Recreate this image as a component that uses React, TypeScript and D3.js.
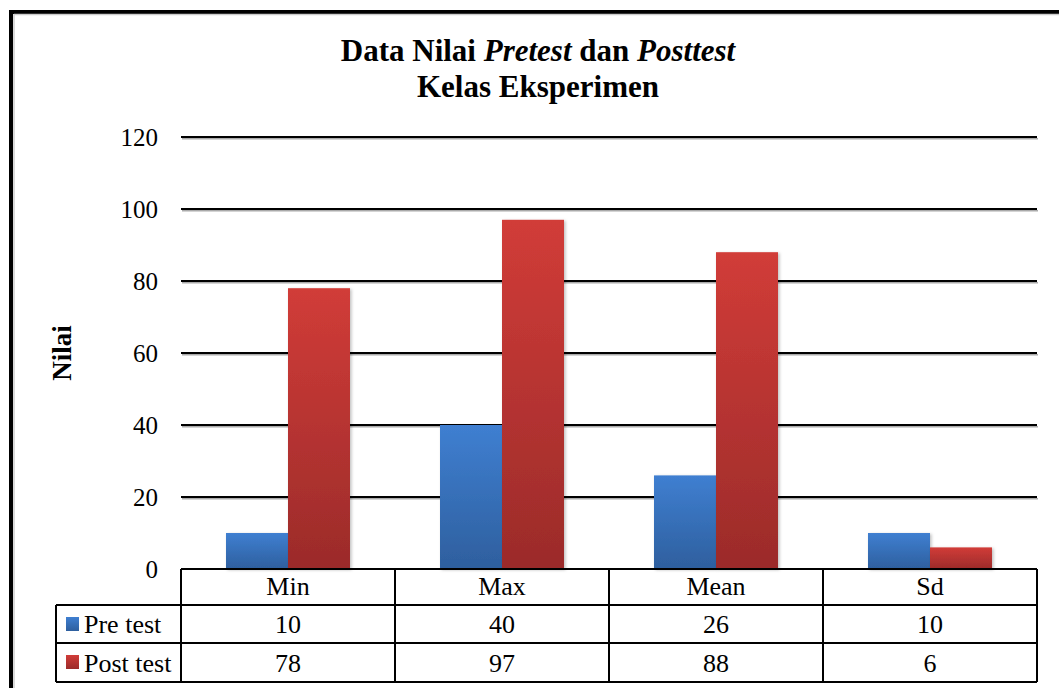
import React, { useRef, useEffect } from 'react';
import * as d3 from 'd3';

const categories = ['Min', 'Max', 'Mean', 'Sd'];
const seriesNames = ['Pre test', 'Post test'];
const preTest = [10, 40, 26, 10];
const postTest = [78, 97, 88, 6];
const yTicks = [0, 20, 40, 60, 80, 100, 120];

const colors = [
	{ top: '#3f7fd1', bottom: '#2e5f9e' },
	{ top: '#d13c38', bottom: '#9b2b2a' },
];

const FONT = "'Liberation Serif', 'Times New Roman', serif";

const App: React.FC = () => {
	const svgRef = useRef<SVGSVGElement | null>(null);

	useEffect(() => {
		const svg = d3.select(svgRef.current);
		svg.selectAll('*').remove();

		const width = 1059;
		const height = 688;
		const plot = { left: 181, right: 1037, top: 137, bottom: 569 };
		const rowH = [36, 38, 39];
		const legendLeft = 56;

		const values = [preTest, postTest];

		const defs = svg.append('defs');
		colors.forEach((c, i) => {
			const g = defs
				.append('linearGradient')
				.attr('id', `grad${i}`)
				.attr('x1', 0)
				.attr('y1', 0)
				.attr('x2', 0)
				.attr('y2', 1);
			g.append('stop').attr('offset', '0%').attr('stop-color', c.top);
			g.append('stop').attr('offset', '100%').attr('stop-color', c.bottom);
		});
		const shadow = defs
			.append('filter')
			.attr('id', 'shadow')
			.attr('x', '-20%')
			.attr('y', '-20%')
			.attr('width', '140%')
			.attr('height', '140%');
		shadow
			.append('feDropShadow')
			.attr('dx', 1.5)
			.attr('dy', 1)
			.attr('stdDeviation', 1.5)
			.attr('flood-color', '#000')
			.attr('flood-opacity', 0.25);

		svg.append('rect')
			.attr('width', width)
			.attr('height', height)
			.attr('fill', '#fff');

		// outer frame
		svg.append('rect')
			.attr('x', 11)
			.attr('y', 12)
			.attr('width', 1200)
			.attr('height', 900)
			.attr('fill', 'none')
			.attr('stroke', '#000')
			.attr('stroke-width', 4);
		svg.append('line')
			.attr('x1', 14)
			.attr('x2', 14)
			.attr('y1', 14)
			.attr('y2', height)
			.attr('stroke', '#ccc')
			.attr('stroke-width', 1.5);
		svg.append('line')
			.attr('x1', 14)
			.attr('x2', width)
			.attr('y1', 14.5)
			.attr('y2', 14.5)
			.attr('stroke', '#ccc')
			.attr('stroke-width', 1.5);

		const y = d3.scaleLinear().domain([0, 120]).range([plot.bottom, plot.top]);
		const x0 = d3
			.scaleBand<string>()
			.domain(categories)
			.range([plot.left, plot.right])
			.padding(0);
		const x1 = d3
			.scaleBand<string>()
			.domain(seriesNames)
			.range([0, x0.bandwidth()])
			.paddingInner(0)
			.paddingOuter(0.726);

		// gridlines (with a soft grey shadow underneath)
		const grid = svg.append('g');
		grid.selectAll('line.sh')
			.data(yTicks.filter((t) => t > 0))
			.join('line')
			.attr('class', 'sh')
			.attr('x1', plot.left + 1)
			.attr('x2', plot.right + 1)
			.attr('y1', (d) => y(d) + 1.8)
			.attr('y2', (d) => y(d) + 1.8)
			.attr('stroke', '#aaa')
			.attr('stroke-width', 1.5);
		grid.selectAll('line.gl')
			.data(yTicks.filter((t) => t > 0))
			.join('line')
			.attr('class', 'gl')
			.attr('x1', plot.left)
			.attr('x2', plot.right)
			.attr('y1', (d) => y(d))
			.attr('y2', (d) => y(d))
			.attr('stroke', '#000')
			.attr('stroke-width', 2);

		// tick labels
		svg.append('g')
			.selectAll('text')
			.data(yTicks)
			.join('text')
			.attr('x', 158)
			.attr('y', (d) => y(d) + 9)
			.attr('text-anchor', 'end')
			.attr('font-family', FONT)
			.attr('font-size', 25)
			.attr('fill', '#000')
			.text((d) => d);

		// bars
		seriesNames.forEach((s, si) => {
			svg.append('g')
				.selectAll('rect')
				.data(categories)
				.join('rect')
				.attr('x', (c) => (x0(c) as number) + (x1(s) as number))
				.attr('y', (c, i) => y(values[si][i]))
				.attr('width', x1.bandwidth())
				.attr('height', (c, i) => y(0) - y(values[si][i]))
				.attr('fill', `url(#grad${si})`)
				.attr('filter', 'url(#shadow)');
		});

		// data table
		const tbl = svg.append('g');
		const rowY = [plot.bottom, plot.bottom + rowH[0], plot.bottom + rowH[0] + rowH[1]];
		const tableBottom = rowY[2] + rowH[2];
		const lineAttr = (sel: any) =>
			sel.attr('stroke', '#000').attr('stroke-width', 2).attr('fill', 'none');

		tbl.append('line')
			.attr('x1', plot.left)
			.attr('x2', plot.right)
			.attr('y1', rowY[0])
			.attr('y2', rowY[0])
			.call(lineAttr);
		[rowY[1], rowY[2], tableBottom].forEach((yy) => {
			tbl.append('line')
				.attr('x1', legendLeft)
				.attr('x2', plot.right)
				.attr('y1', yy)
				.attr('y2', yy)
				.call(lineAttr);
		});
		tbl.append('line')
			.attr('x1', legendLeft)
			.attr('x2', legendLeft)
			.attr('y1', rowY[1])
			.attr('y2', tableBottom)
			.call(lineAttr);
		categories.forEach((c) => {
			tbl.append('line')
				.attr('x1', x0(c) as number)
				.attr('x2', x0(c) as number)
				.attr('y1', rowY[0])
				.attr('y2', tableBottom)
				.call(lineAttr);
		});
		tbl.append('line')
			.attr('x1', plot.right)
			.attr('x2', plot.right)
			.attr('y1', rowY[0])
			.attr('y2', tableBottom)
			.call(lineAttr);

		const cellText = (xx: number, yy: number, t: string | number, anchor = 'middle') =>
			tbl.append('text')
				.attr('x', xx)
				.attr('y', yy)
				.attr('text-anchor', anchor)
				.attr('font-family', FONT)
				.attr('font-size', 26)
				.attr('fill', '#000')
				.text(t);

		categories.forEach((c, i) => {
			const cx = (x0(c) as number) + x0.bandwidth() / 2;
			cellText(cx, rowY[0] + 26, c);
			cellText(cx, rowY[1] + 28, values[0][i]);
			cellText(cx, rowY[2] + 29, values[1][i]);
		});

		seriesNames.forEach((s, si) => {
			const ry = rowY[si + 1];
			tbl.append('rect')
				.attr('x', 66)
				.attr('y', ry + 12)
				.attr('width', 13)
				.attr('height', 14)
				.attr('fill', `url(#grad${si})`);
			cellText(84, ry + 28 + si, s, 'start');
		});

		// y axis title
		svg.append('text')
			.attr('transform', 'translate(71,353) rotate(-90)')
			.attr('text-anchor', 'middle')
			.attr('font-family', FONT)
			.attr('font-weight', 'bold')
			.attr('font-size', 27)
			.attr('fill', '#000')
			.text('Nilai');

		// title
		const t1 = svg.append('text')
			.attr('x', 538)
			.attr('y', 61)
			.attr('text-anchor', 'middle')
			.attr('font-family', FONT)
			.attr('font-weight', 'bold')
			.attr('font-size', 31)
			.attr('fill', '#000');
		t1.append('tspan').text('Data Nilai ');
		t1.append('tspan').attr('font-style', 'italic').text('Pretest');
		t1.append('tspan').text(' dan ');
		t1.append('tspan').attr('font-style', 'italic').text('Posttest');

		svg.append('text')
			.attr('x', 538)
			.attr('y', 97)
			.attr('text-anchor', 'middle')
			.attr('font-family', FONT)
			.attr('font-weight', 'bold')
			.attr('font-size', 31)
			.attr('fill', '#000')
			.text('Kelas Eksperimen');
	}, []);

	return (
		<svg
			ref={svgRef}
			width={1059}
			height={688}
			style={{ position: 'absolute', left: 0, top: 0, display: 'block' }}
		/>
	);
};

export default App;
